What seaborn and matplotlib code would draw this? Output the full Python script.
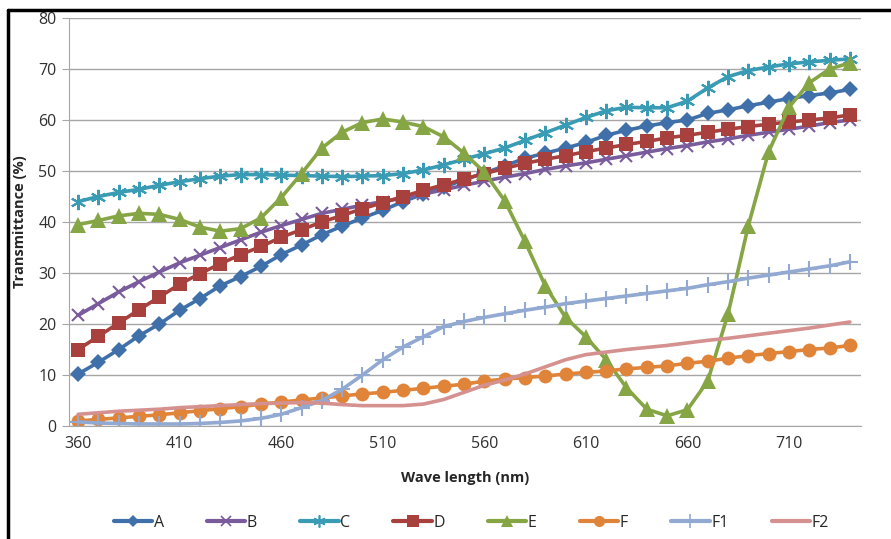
#libraries
import matplotlib
matplotlib.use("Agg")
import matplotlib.pyplot as plt
import seaborn as sns
import pandas as pd
from matplotlib.lines import Line2D

#data
wavelength = list(range(360, 750, 10))

A = [10.2, 12.5, 15.0, 17.7, 20.0, 22.7, 25.0, 27.5, 29.3, 31.3, 33.6, 35.5, 37.5, 39.2,
     40.8, 42.3, 44.0, 45.5, 46.8, 48.3, 49.6, 51.0, 52.5, 53.5, 54.5, 55.6, 57.0, 58.0,
     58.8, 59.5, 60.0, 61.3, 62.0, 62.8, 63.5, 64.2, 64.8, 65.3, 66.0]
B = [21.7, 24.0, 26.3, 28.3, 30.2, 32.0, 33.5, 35.0, 36.5, 38.0, 39.3, 40.5, 41.7, 42.5,
     43.3, 44.0, 44.7, 45.5, 46.3, 47.2, 48.0, 48.8, 49.5, 50.3, 51.0, 51.6, 52.3, 53.0,
     53.7, 54.4, 55.0, 55.7, 56.3, 57.0, 57.6, 58.2, 58.8, 59.5, 60.0]
C = [44.0, 45.0, 45.8, 46.4, 47.2, 47.9, 48.5, 49.0, 49.3, 49.3, 49.2, 49.1, 49.0, 48.9,
     49.0, 49.1, 49.5, 50.2, 51.2, 52.3, 53.4, 54.5, 56.0, 57.5, 59.0, 60.5, 61.8, 62.5,
     62.4, 62.4, 63.7, 66.3, 68.5, 69.7, 70.4, 71.0, 71.4, 71.7, 72.0]
D = [15.0, 17.6, 20.2, 22.8, 25.3, 27.8, 29.9, 31.8, 33.6, 35.2, 37.0, 38.5, 40.0, 41.3,
     42.6, 43.8, 45.0, 46.2, 47.3, 48.4, 49.5, 50.5, 51.5, 52.3, 53.0, 53.8, 54.5, 55.2,
     55.8, 56.5, 57.0, 57.6, 58.2, 58.7, 59.2, 59.6, 60.0, 60.4, 61.0]
E = [39.5, 40.3, 41.2, 41.7, 41.5, 40.5, 39.0, 38.2, 38.7, 40.8, 44.8, 49.5, 54.5, 57.6,
     59.5, 60.2, 59.6, 58.7, 56.7, 53.5, 49.8, 44.2, 36.2, 27.5, 21.3, 17.5, 13.0, 7.5,
     3.3, 2.0, 3.2, 8.8, 22.0, 39.3, 53.8, 62.5, 67.3, 70.0, 71.2]
F = [1.0, 1.3, 1.6, 1.9, 2.2, 2.6, 3.0, 3.4, 3.8, 4.3, 4.7, 5.1, 5.5, 5.9,
     6.3, 6.6, 7.0, 7.4, 7.8, 8.2, 8.8, 9.2, 9.5, 9.8, 10.2, 10.5, 10.8, 11.2,
     11.5, 11.8, 12.3, 12.7, 13.3, 13.8, 14.2, 14.6, 15.0, 15.3, 15.8]
F1 = [0.8, 0.6, 0.5, 0.4, 0.4, 0.4, 0.5, 0.7, 1.0, 1.5, 2.3, 3.6, 5.0, 7.2,
      10.0, 13.0, 15.5, 17.5, 19.5, 20.5, 21.3, 22.0, 22.7, 23.3, 24.0, 24.5, 25.0, 25.5,
      26.0, 26.5, 27.0, 27.7, 28.3, 29.0, 29.6, 30.2, 30.8, 31.4, 32.2]
F2 = [2.3, 2.6, 2.9, 3.1, 3.3, 3.6, 3.8, 4.0, 4.2, 4.4, 4.5, 4.6, 4.5, 4.2,
      4.0, 4.0, 4.0, 4.3, 5.2, 6.6, 8.0, 9.0, 10.2, 11.6, 13.0, 14.0, 14.5, 15.0,
      15.4, 15.8, 16.3, 16.8, 17.2, 17.7, 18.2, 18.7, 19.2, 19.8, 20.4]

series = {"A": A, "B": B, "C": C, "D": D, "E": E, "F": F, "F1": F1, "F2": F2}

#styles per series: colour, marker, marker size
styles = {
    "A": ("#4070AA", "D", 8),
    "B": ("#7A5C9C", "x", 9),
    "C": ("#3A9BB5", (6, 2, 0), 11),
    "D": ("#A8413E", "s", 10),
    "E": ("#86A545", "^", 11),
    "F": ("#E0843A", "o", 10),
    "F1": ("#92A9D2", "+", 12),
    "F2": ("#D4918F", None, 0),
}

sns.set_style("white")
plt.rcParams['font.family'] = ['Open Sans', 'DejaVu Sans']

fig = plt.figure(figsize=(8.91, 5.39), dpi=100)
ax = fig.add_axes([0.0774, 0.2096, 0.889, 0.757])

for name, vals in series.items():
    color, marker, ms = styles[name]
    df = pd.DataFrame({"wl": wavelength, "T": vals})
    mew = 1.5 if marker in ("x", "+", (6, 2, 0)) else 0
    sns.lineplot(data=df, x="wl", y="T", ax=ax, color=color, linewidth=2.6,
                 marker=marker, markersize=ms, markeredgewidth=mew,
                 markeredgecolor=color, label=name, legend=False)

ax.set_xlim(355.5, 745.5)
ax.set_ylim(0, 80)
ax.set_xticks(range(360, 711, 50))
ax.set_yticks(range(0, 81, 10))
ax.grid(axis='y', color='#A6A6A6', linewidth=1)
ax.grid(axis='x', visible=False)
for s in ["top", "right"]:
    ax.spines[s].set_visible(False)
ax.spines["left"].set_color('#A6A6A6')
ax.spines["bottom"].set_color('#A6A6A6')
ax.tick_params(axis='y', length=5, color='#A6A6A6', labelsize=11.5, pad=4, left=True,
               labelcolor='#303030')
ax.tick_params(axis='x', length=0, labelsize=11.5, pad=7, labelcolor='#303030')
ax.set_xlabel("Wave length (nm)", fontweight='bold', fontsize=10.5, labelpad=14)
ax.set_ylabel("Transmittance (%)", fontweight='bold', fontsize=10.5, labelpad=8)

#legend at the bottom
handles = []
for name in series:
    color, marker, ms = styles[name]
    mew = 1.2 if marker in ("x", "+", (6, 2, 0)) else 0
    handles.append(Line2D([], [], color=color, linewidth=3, marker=marker,
                          markersize=ms * 0.8, markeredgewidth=mew,
                          markeredgecolor=color))
fig.legend(handles, list(series.keys()), loc='center', bbox_to_anchor=(0.529, 0.03),
           ncol=8, frameon=False, fontsize=11.5, handlelength=2.4, handletextpad=0.1,
           columnspacing=2.7)

#black outer border (only left and top visible)
fig.add_artist(Line2D([8 / 891, 8 / 891], [0, 1 - 10 / 539], transform=fig.transFigure,
                      color='black', linewidth=2.5))
fig.add_artist(Line2D([8 / 891, 1], [1 - 10 / 539, 1 - 10 / 539], transform=fig.transFigure,
                      color='black', linewidth=2.5))

fig.savefig("out.png", dpi=100)
